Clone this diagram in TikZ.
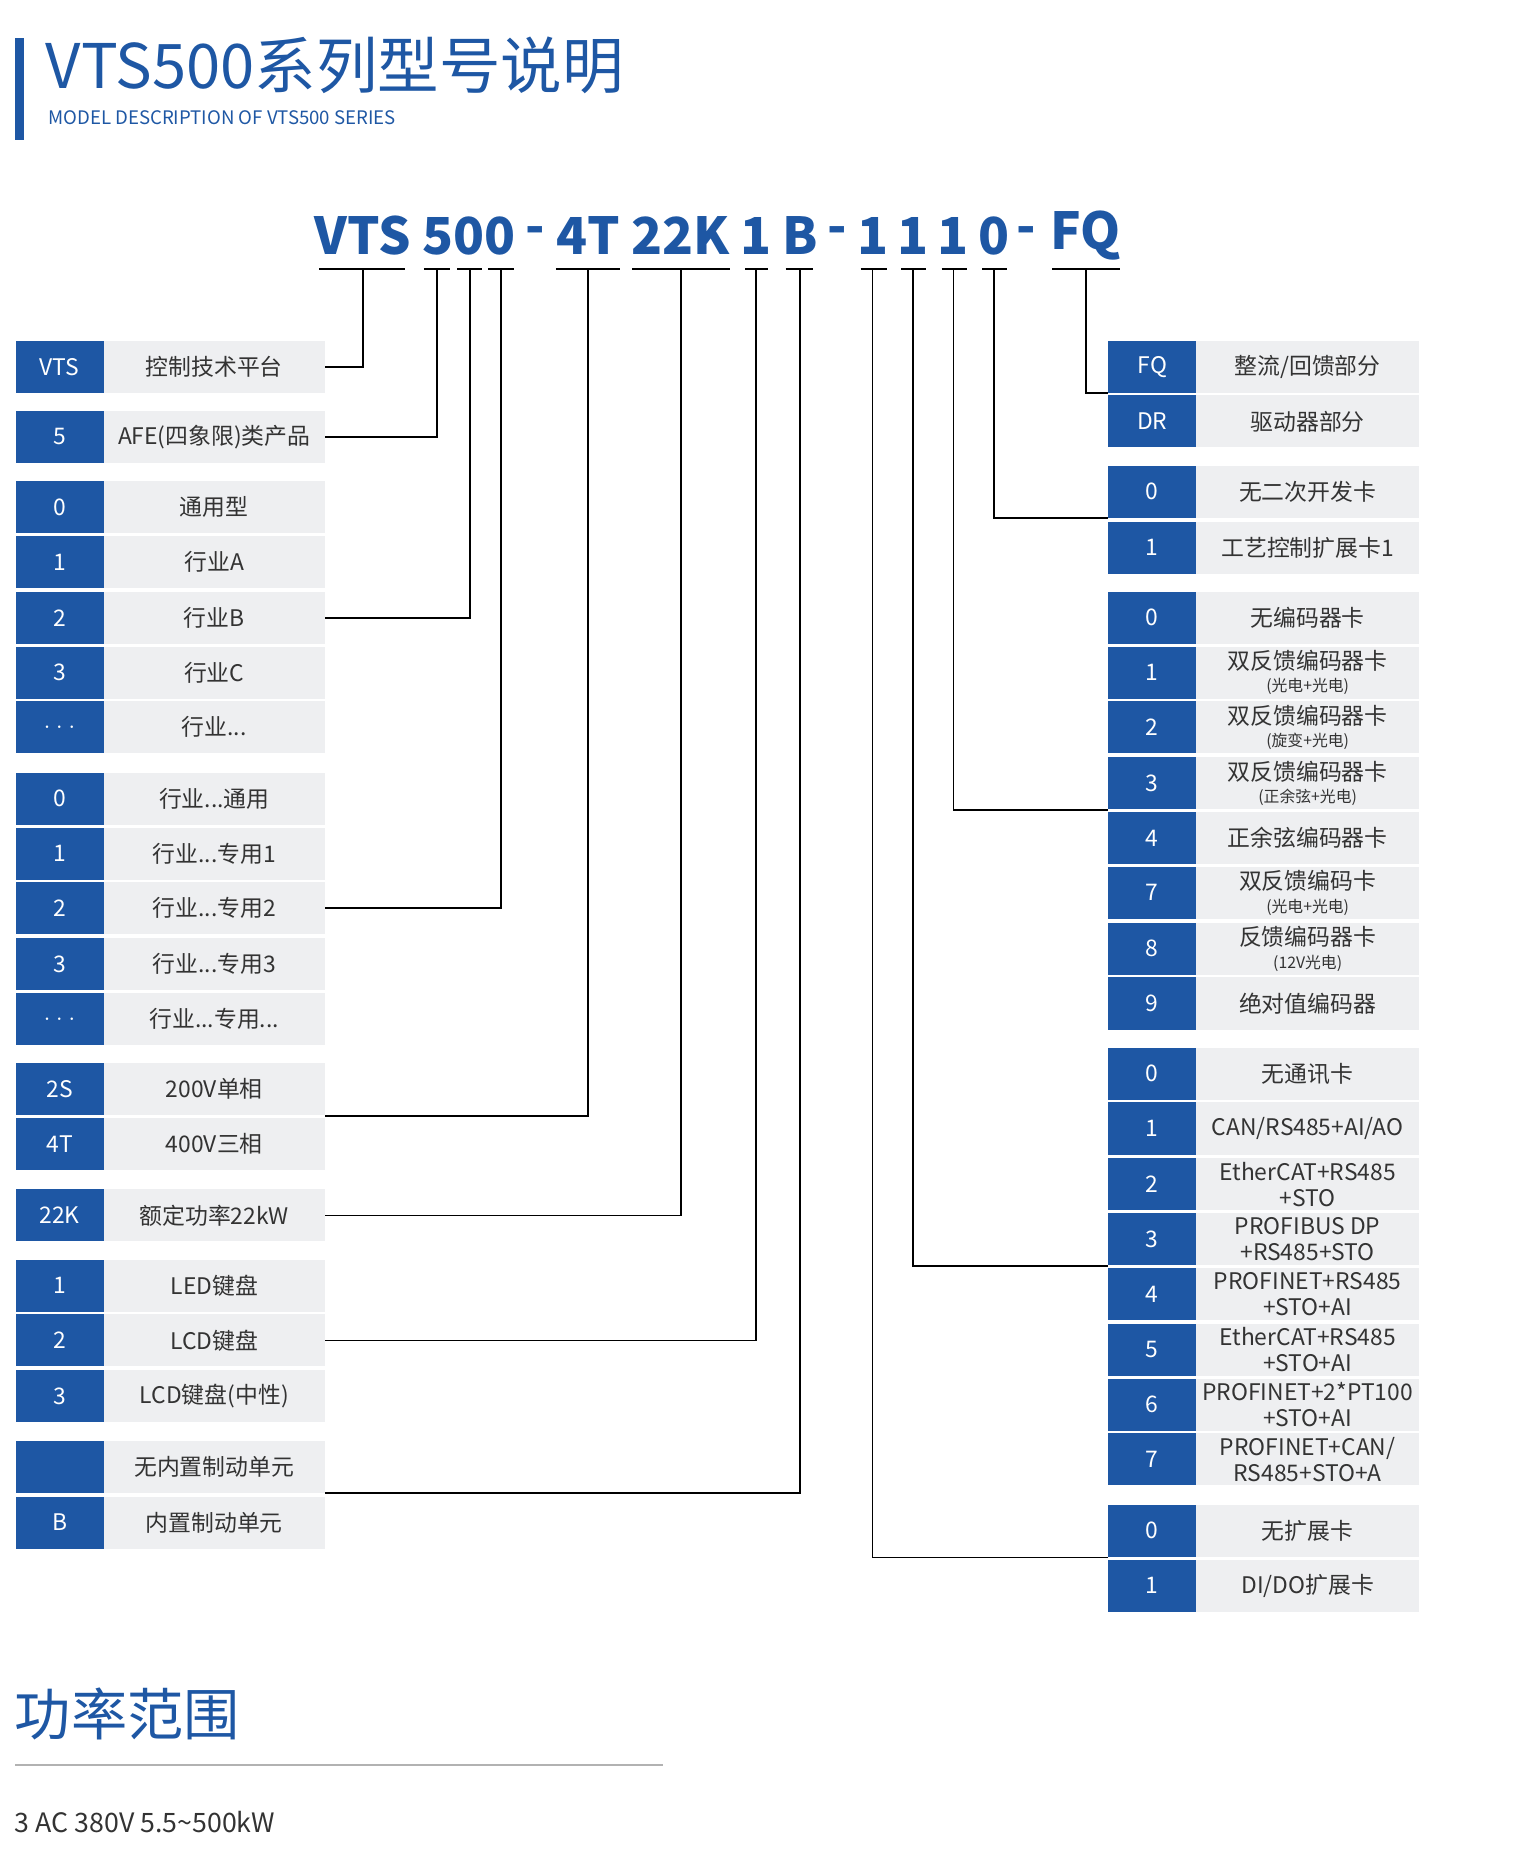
\documentclass[tikz,border=0pt]{standalone}
\usepackage{fontspec}
\setmainfont{Noto Sans CJK SC}
\usetikzlibrary{positioning, calc}
\definecolor{vtsblue}{HTML}{1E57A4}
\definecolor{cellgray}{HTML}{EEEFF1}
\definecolor{textgray}{HTML}{333333}
\tikzset{
codebox/.style={rectangle, fill=vtsblue, text=white, minimum width=0.88cm, minimum height=0.52cm, inner sep=0pt, font=\fontsize{6.5}{7}\selectfont},
namebox/.style={rectangle, fill=cellgray, text=textgray, minimum width=2.21cm, minimum height=0.52cm, inner sep=0pt, align=center, font=\fontsize{6.5}{7.4}\selectfont},
codepart/.style={text=vtsblue, inner sep=0pt, font=\fontsize{14.5}{16}\bfseries\selectfont},
link/.style={draw=black, line width=0.5pt}
}
\newcommand{\leftrow}[4]{\node[codebox] (#1) at (50,#2) {#3};
\node[namebox] (#1-t) at (180,#2) {#4};}
\newcommand{\rightrow}[4]{\node[codebox] (#1) at (968,#2) {#3};
\node[namebox, minimum width=2.23cm] (#1-t) at (1098.5,#2) {#4};}
\newcommand{\sub}[1]{\\[-1pt]{\fontsize{4.5}{5}\selectfont #1}}
\begin{document}
\begin{tikzpicture}[x=0.0119cm, y=-0.0119cm]
\useasboundingbox (0,0) rectangle (1280,1560);
% title
\fill[vtsblue] (13,32) rectangle (20,118);
\node[anchor=west, text=vtsblue, inner sep=0pt, font=\fontsize{17.5}{18}\selectfont] (title) at (38,55) {VTS500系列型号说明};
\node[anchor=west, text=vtsblue, inner sep=0pt, font=\fontsize{5.3}{6}\selectfont] (subtitle) at (40,99) {MODEL DESCRIPTION OF VTS500 SERIES};

% model code
\foreach \x/\t/\n in {305/VTS/vts, 394/500/num, 450/-/d1, 494/4T/volt, 572/22K/pow, 635/1/kb, 672/B/brk, 703/-/d2, 733/1/ext, 767/1/com, 801/1/enc, 835/0/dev, 862/-/d3, 912/FQ/fq}
  \node[codepart] (c-\n) at (\x,198) {\t};
\foreach \a/\b in {268/340, 356/378, 384/405, 410/432, 467/521, 531/613, 626/645, 660/683, 723/745, 757/778, 791/812, 825/846, 884/941}
  \draw[link] (\a,226) -- (\b,226);
\foreach \x/\n in {305/vts, 367/five, 395/ind, 421/sub, 494/volt, 572/pow, 635/kb, 672/brk, 733/ext, 767/com, 801/enc, 835/dev, 912/fq}
  \coordinate (t-\n) at (\x,226);

% left column
\leftrow{l-vts}{308}{VTS}{控制技术平台}
\leftrow{l-five}{367}{5}{AFE(四象限)类产品}
\leftrow{l-i0}{426}{0}{通用型}
\leftrow{l-i1}{472}{1}{行业A}
\leftrow{l-i2}{519}{2}{行业B}
\leftrow{l-i3}{565}{3}{行业C}
\leftrow{l-i4}{611}{$\cdots$}{行业...}
\leftrow{l-s0}{671}{0}{行业...通用}
\leftrow{l-s1}{717}{1}{行业...专用1}
\leftrow{l-s2}{763}{2}{行业...专用2}
\leftrow{l-s3}{810}{3}{行业...专用3}
\leftrow{l-s4}{856}{$\cdots$}{行业...专用...}
\leftrow{l-2s}{915}{2S}{200V单相}
\leftrow{l-4t}{961}{4T}{400V三相}
\leftrow{l-22k}{1021}{22K}{额定功率22kW}
\leftrow{l-k1}{1080}{1}{LED键盘}
\leftrow{l-k2}{1126}{2}{LCD键盘}
\leftrow{l-k3}{1173}{3}{LCD键盘(中性)}
\leftrow{l-nb}{1232}{}{无内置制动单元}
\leftrow{l-b}{1279}{B}{内置制动单元}

% right column
\rightrow{r-fq}{308}{FQ}{整流/回馈部分}
\rightrow{r-dr}{354}{DR}{驱动器部分}
\rightrow{r-d0}{413}{0}{无二次开发卡}
\rightrow{r-d1}{460}{1}{工艺控制扩展卡1}
\rightrow{r-e0}{519}{0}{无编码器卡}
\rightrow{r-e1}{565}{1}{双反馈编码器卡\sub{(光电+光电)}}
\rightrow{r-e2}{611}{2}{双反馈编码器卡\sub{(旋变+光电)}}
\rightrow{r-e3}{658}{3}{双反馈编码器卡\sub{(正余弦+光电)}}
\rightrow{r-e4}{704}{4}{正余弦编码器卡}
\rightrow{r-e7}{750}{7}{双反馈编码卡\sub{(光电+光电)}}
\rightrow{r-e8}{797}{8}{反馈编码器卡\sub{(12V光电)}}
\rightrow{r-e9}{843}{9}{绝对值编码器}
\rightrow{r-c0}{902}{0}{无通讯卡}
\rightrow{r-c1}{948}{1}{CAN/RS485+AI/AO}
\rightrow{r-c2}{995}{2}{EtherCAT+RS485\\+STO}
\rightrow{r-c3}{1041}{3}{PROFIBUS DP\\+RS485+STO}
\rightrow{r-c4}{1087}{4}{PROFINET+RS485\\+STO+AI}
\rightrow{r-c5}{1134}{5}{EtherCAT+RS485\\+STO+AI}
\rightrow{r-c6}{1180}{6}{PROFINET+2*PT100\\+STO+AI}
\rightrow{r-c7}{1226}{7}{PROFINET+CAN/\\RS485+STO+A}
\rightrow{r-x0}{1286}{0}{无扩展卡}
\rightrow{r-x1}{1332}{1}{DI/DO扩展卡}

% connectors
\draw[link] (l-vts-t.east) -| (t-vts);
\draw[link] (l-five-t.east) -| (t-five);
\draw[link] (l-i2-t.east) -| (t-ind);
\draw[link] (l-s2-t.east) -| (t-sub);
\draw[link] (l-2s-t.south east) -| (t-volt);
\draw[link] (l-22k-t.east) -| (t-pow);
\draw[link] (l-k2-t.east) -| (t-kb);
\draw[link] (l-nb-t.south east) -| (t-brk);
\draw[link] (r-fq.south west) -| (t-fq);
\draw[link] (r-d0.south west) -| (t-dev);
\draw[link] (r-e3.south west) -| (t-enc);
\draw[link] (r-c3.south west) -| (t-com);
\draw[link] (r-x0.south west) -| (t-ext);

% power range
\node[anchor=west, text=vtsblue, inner sep=0pt, font=\fontsize{16}{17}\selectfont] (power) at (12,1440) {功率范围};
\draw[gray!60, line width=0.6pt] (13,1483) -- (557,1483);
\node[anchor=west, text=textgray, inner sep=0pt, font=\fontsize{7.6}{8}\selectfont] (range) at (12,1531) {3 AC 380V 5.5\textasciitilde500kW};
\end{tikzpicture}
\end{document}
